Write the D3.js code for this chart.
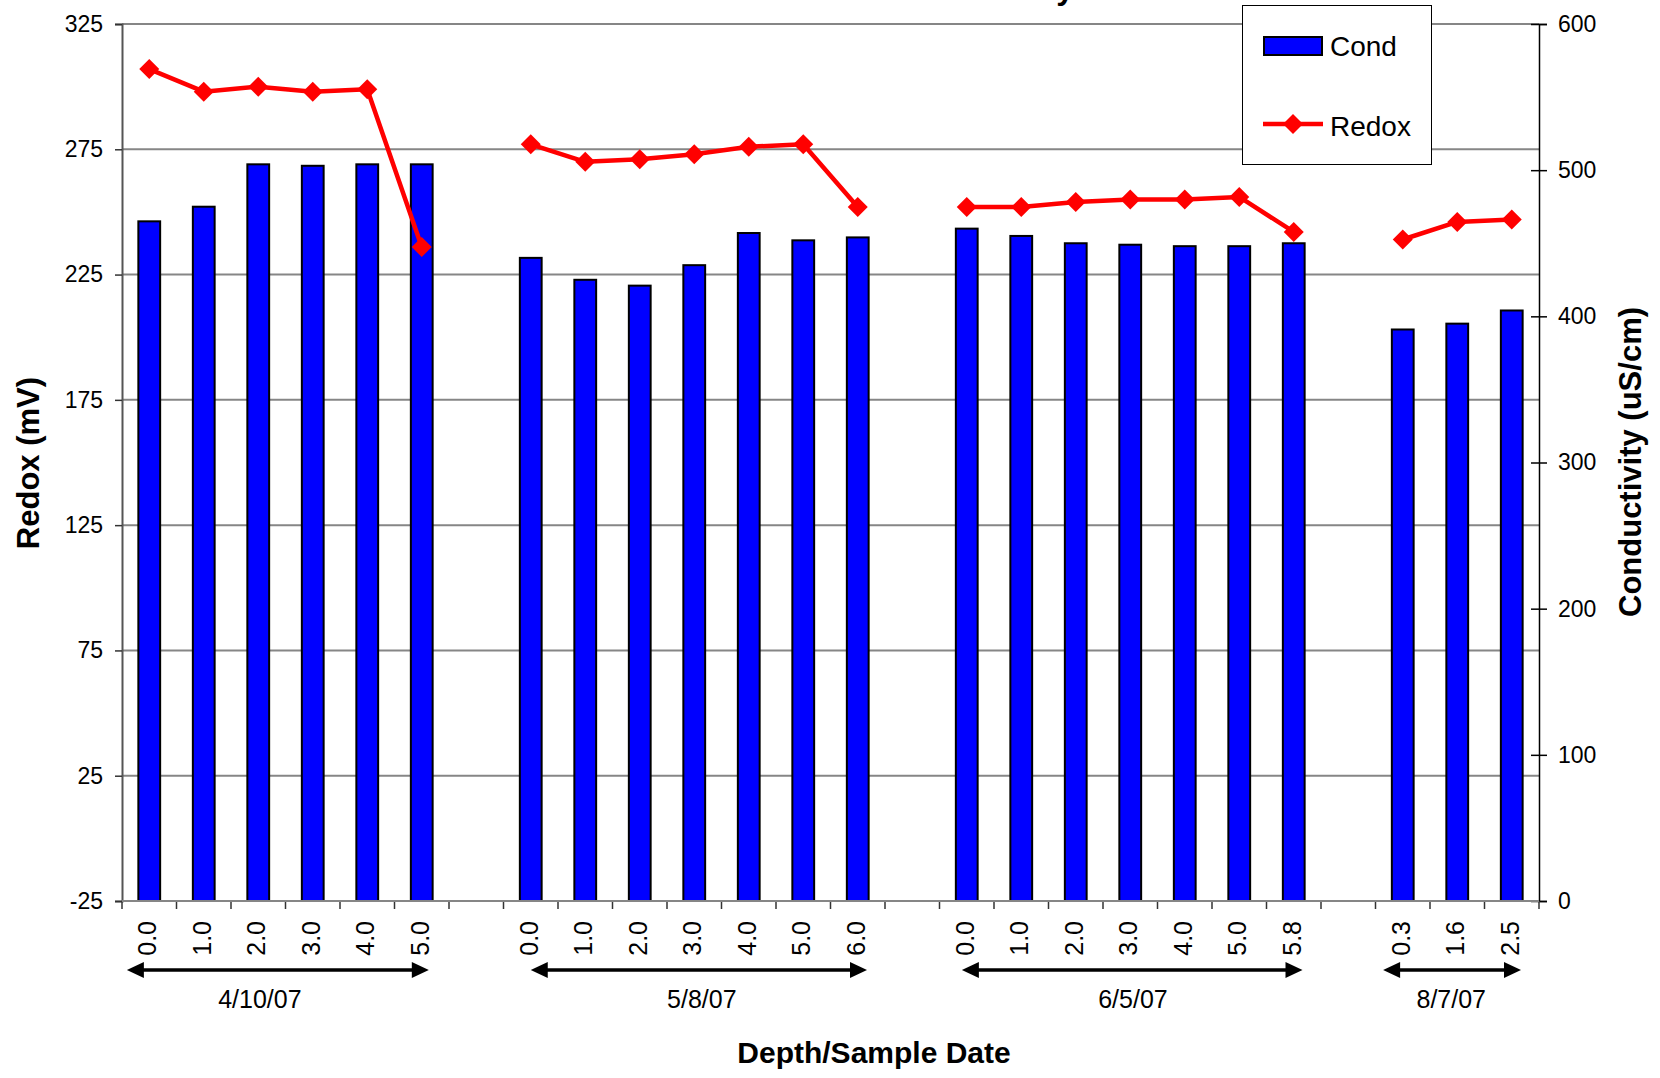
<!DOCTYPE html>
<html>
<head>
<meta charset="utf-8">
<script src="https://cdn.jsdelivr.net/npm/d3@7"></script>
<style>
  body { margin: 0; background: #fff; }
  svg { display: block; font-family: "Liberation Sans", Arial, sans-serif; }
</style>
</head>
<body>
<div id="chart"></div>
<script>
// depth labels per category, "" = blank spacer between sample dates
var depths = ["0.0", "1.0", "2.0", "3.0", "4.0", "5.0", "",
              "0.0", "1.0", "2.0", "3.0", "4.0", "5.0", "6.0", "",
              "0.0", "1.0", "2.0", "3.0", "4.0", "5.0", "5.8", "",
              "0.3", "1.6", "2.5"];
var cond = [465, 475, 504, 503, 504, 504, null,
            440, 425, 421, 435, 457, 452, 454, null,
            460, 455, 450, 449, 448, 448, 450, null,
            391, 395, 404];
var redox = [307, 298, 300, 298, 299, 236, null,
             277, 270, 271, 273, 276, 277, 252, null,
             252, 252, 254, 255, 255, 256, 242, null,
             239, 246, 247];
var dates = ["4/10/07", "5/8/07", "6/5/07", "8/7/07"];
var redoxTicks = [-25, 25, 75, 125, 175, 225, 275, 325];
var condTicks = [0, 100, 200, 300, 400, 500, 600];

// annotation placement in category units
var arrowFrom = [0.09, 7.5, 15.41, 23.14];
var arrowTo = [5.63, 13.67, 21.66, 25.67];
var labelAt = [2.53, 10.64, 18.55, 24.39];

var W = 1660, H = 1078;
var plotL = 122, plotR = 1539, plotT = 24, plotB = 901;

var svg = d3.select("#chart")
    .append("svg")
    .attr("width", W)
    .attr("height", H);

var idx = d3.range(depths.length);
var x = d3.scaleBand().domain(idx).range([plotL, plotR]).padding(0);
var xu = d3.scaleLinear().domain([0, depths.length]).range([plotL, plotR]);
var yL = d3.scaleLinear().domain([-25, 325]).range([plotB, plotT]);
var yR = d3.scaleLinear().domain([0, 600]).range([plotB, plotT]);
var plain = function (d) { return String(d); };

// title (cut off at the top edge)
svg.append("text")
    .attr("x", 1074)
    .attr("y", -1)
    .attr("text-anchor", "end")
    .attr("font-size", 32)
    .attr("font-weight", "bold")
    .text("Redox and Conductivity");

// gridlines
svg.append("g").selectAll("line")
    .data(redoxTicks)
    .enter().append("line")
    .attr("x1", plotL).attr("x2", plotR)
    .attr("y1", function (d) { return yL(d); })
    .attr("y2", function (d) { return yL(d); })
    .attr("stroke", "#868686")
    .attr("stroke-width", 2);

// left axis
var axL = svg.append("g")
    .attr("transform", "translate(" + plotL + ",0)")
    .call(d3.axisLeft(yL).tickValues(redoxTicks).tickFormat(plain).tickSize(7).tickPadding(12));
axL.select(".domain").attr("stroke", "#555").attr("stroke-width", 2);
axL.selectAll(".tick line").attr("stroke", "#333").attr("stroke-width", 1.5);
axL.selectAll("text").attr("font-size", 23).attr("fill", "#000")
    .attr("font-family", "Liberation Sans, Arial, sans-serif");

// right axis
var axR = svg.append("g")
    .attr("transform", "translate(" + plotR + ",0)")
    .call(d3.axisRight(yR).tickValues(condTicks).tickFormat(plain).tickSize(8).tickPadding(11));
axR.select(".domain").attr("stroke", "#000").attr("stroke-width", 1.5);
axR.selectAll(".tick line").attr("stroke", "#000").attr("stroke-width", 1.5).attr("x1", -8);
axR.selectAll("text").attr("font-size", 23).attr("fill", "#000")
    .attr("font-family", "Liberation Sans, Arial, sans-serif");

// bottom axis: ticks at category boundaries
var bnd = d3.range(depths.length + 1);
svg.append("g").selectAll("line")
    .data(bnd)
    .enter().append("line")
    .attr("x1", function (d) { return xu(d); })
    .attr("x2", function (d) { return xu(d); })
    .attr("y1", plotB)
    .attr("y2", plotB + 8)
    .attr("stroke", "#333")
    .attr("stroke-width", 1.5);

// bars
var bw = x.bandwidth() * 0.4;
svg.append("g").selectAll("rect")
    .data(idx.filter(function (i) { return cond[i] != null; }))
    .enter().append("rect")
    .attr("x", function (i) { return x(i) + (x.bandwidth() - bw) / 2; })
    .attr("y", function (i) { return yR(cond[i]); })
    .attr("width", bw)
    .attr("height", function (i) { return yR(0) - yR(cond[i]); })
    .attr("fill", "#0000ff")
    .attr("stroke", "#000")
    .attr("stroke-width", 2);

// bottom axis line over bars
svg.append("line")
    .attr("x1", plotL).attr("x2", plotR)
    .attr("y1", plotB).attr("y2", plotB)
    .attr("stroke", "#868686")
    .attr("stroke-width", 2);

// redox line
var line = d3.line()
    .defined(function (i) { return redox[i] != null; })
    .x(function (i) { return x(i) + x.bandwidth() / 2; })
    .y(function (i) { return yL(redox[i]); });

svg.append("path")
    .datum(idx)
    .attr("d", line)
    .attr("fill", "none")
    .attr("stroke", "#ff0000")
    .attr("stroke-width", 4.5)
    .attr("stroke-linejoin", "round");

var diamond = "M0,-10L10,0L0,10L-10,0Z";
svg.append("g").selectAll("path")
    .data(idx.filter(function (i) { return redox[i] != null; }))
    .enter().append("path")
    .attr("d", diamond)
    .attr("transform", function (i) {
        return "translate(" + (x(i) + x.bandwidth() / 2) + "," + yL(redox[i]) + ")";
    })
    .attr("fill", "#ff0000");

// depth labels
svg.append("g").selectAll("text")
    .data(idx.filter(function (i) { return depths[i] !== ""; }))
    .enter().append("text")
    .attr("transform", function (i) {
        return "translate(" + (x(i) + x.bandwidth() / 2 + 7) + ",921) rotate(-90)";
    })
    .attr("text-anchor", "end")
    .attr("font-size", 25)
    .text(function (i) { return depths[i]; });

// date arrows and labels
var ay = 970;
var arrows = svg.append("g");
dates.forEach(function (d, k) {
    var a = xu(arrowFrom[k]), b = xu(arrowTo[k]);
    arrows.append("line")
        .attr("x1", a + 10).attr("x2", b - 10)
        .attr("y1", ay).attr("y2", ay)
        .attr("stroke", "#000")
        .attr("stroke-width", 3.5);
    arrows.append("path")
        .attr("d", "M" + a + "," + ay + "L" + (a + 17) + "," + (ay - 8) + "L" + (a + 17) + "," + (ay + 8) + "Z")
        .attr("fill", "#000");
    arrows.append("path")
        .attr("d", "M" + b + "," + ay + "L" + (b - 17) + "," + (ay - 8) + "L" + (b - 17) + "," + (ay + 8) + "Z")
        .attr("fill", "#000");
    arrows.append("text")
        .attr("x", xu(labelAt[k]))
        .attr("y", 1008)
        .attr("text-anchor", "middle")
        .attr("font-size", 25)
        .text(d);
});

// axis titles
svg.append("text")
    .attr("x", 874)
    .attr("y", 1063)
    .attr("text-anchor", "middle")
    .attr("font-size", 30)
    .attr("font-weight", "bold")
    .text("Depth/Sample Date");

svg.append("text")
    .attr("transform", "translate(39,463) rotate(-90)")
    .attr("text-anchor", "middle")
    .attr("font-size", 31)
    .attr("font-weight", "bold")
    .text("Redox (mV)");

svg.append("text")
    .attr("transform", "translate(1641,462) rotate(-90)")
    .attr("text-anchor", "middle")
    .attr("font-size", 31)
    .attr("font-weight", "bold")
    .text("Conductivity (uS/cm)");

// legend
var lg = svg.append("g");
lg.append("rect")
    .attr("x", 1242.5).attr("y", 5.5)
    .attr("width", 189).attr("height", 159)
    .attr("fill", "#fff")
    .attr("stroke", "#000")
    .attr("stroke-width", 1);
lg.append("rect")
    .attr("x", 1264).attr("y", 37)
    .attr("width", 58).attr("height", 18)
    .attr("fill", "#0000ff")
    .attr("stroke", "#000")
    .attr("stroke-width", 2);
lg.append("text")
    .attr("x", 1330).attr("y", 56)
    .attr("font-size", 28)
    .text("Cond");
lg.append("line")
    .attr("x1", 1263).attr("x2", 1323)
    .attr("y1", 124).attr("y2", 124)
    .attr("stroke", "#ff0000")
    .attr("stroke-width", 4.5);
lg.append("path")
    .attr("d", diamond)
    .attr("transform", "translate(1293,124)")
    .attr("fill", "#ff0000");
lg.append("text")
    .attr("x", 1330).attr("y", 136)
    .attr("font-size", 28)
    .text("Redox");
</script>
</body>
</html>
